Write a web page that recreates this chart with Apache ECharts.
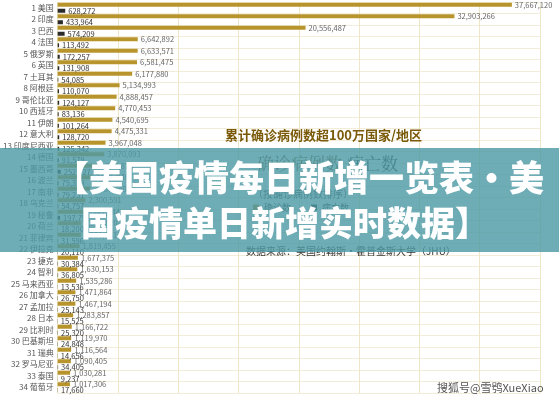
<!DOCTYPE html>
<html><head><meta charset="utf-8">
<script src="https://cdn.jsdelivr.net/npm/echarts@6/dist/echarts.min.js"></script>
<style>html,body{margin:0;padding:0;background:#fff}#c{width:559px;height:400px}</style>
</head><body><div id="c"></div>
<script>
var categories = ['1 美国','2 印度','3 巴西','4 法国','5 俄罗斯','6 英国','7 土耳其','8 阿根廷','9 哥伦比亚','10 西班牙','11 伊朗','12 意大利','13 印度尼西亚','14 德国','15 墨西哥','16 波兰','17 南非','18 乌克兰','19 秘鲁','20 荷兰','21 菲律宾','22 伊拉克','23 捷克','24 智利','25 马来西亚','26 加拿大','27 孟加拉','28 日本','29 比利时','30 巴基斯坦','31 瑞典','32 罗马尼亚','33 泰国','34 葡萄牙'];
var confirmed = [37667120,32903266,20556487,6642892,6633571,6581475,6177880,5134993,4888457,4770453,4540695,4475331,3967048,3870093,3249878,2885940,2706740,2300591,2141744,1956820,1921051,1819455,1677375,1630153,1535286,1471864,1467194,1283857,1166722,1119970,1116564,1090405,1030281,1017306];
var deaths = [628272,433964,574209,113492,172257,131908,54085,110070,124127,83136,101264,128720,125342,91579,252927,75318,79231,54757,197752,18200,31596,20110,30384,36805,13536,26750,25143,15525,25320,24848,14656,34405,9237,17660];
var xTicks = {min:0, max:40000000, interval:5000000};

function fmt(n){return String(n).replace(/\B(?=(\d{3})+(?!\d))/g, ',');}
var FONT = '"Noto Sans CJK SC", "Noto Sans", sans-serif';
var chart = echarts.init(document.getElementById('c'), null, {renderer:'canvas'});
chart.setOption({
  animation:false,
  backgroundColor:'#ffffff',
  textStyle:{fontFamily:FONT},
  title:[
    {text:'累计确诊病例数超100万国家/地区', left:220, top:124, textStyle:{fontSize:13, fontWeight:'bold', color:'#7a5a08', fontFamily:FONT}},
    {text:'确诊病例数', left:252, top:150, textStyle:{fontSize:17, fontWeight:'normal', color:'#6b5a20', fontFamily:'"Noto Serif CJK SC", serif'}},
    {text:'病亡数', left:342, top:150, textStyle:{fontSize:17, fontWeight:'normal', color:'#222', fontFamily:'"Noto Serif CJK SC", serif'}},
    {text:'（按确诊病例数排序）', left:248, top:184, textStyle:{fontSize:10, fontWeight:'normal', color:'#444', fontFamily:FONT}},
    {text:'数据来源：美国约翰斯·霍普金斯大学（JHU）', left:241, top:241, textStyle:{fontSize:10, fontWeight:'normal', color:'#333', fontFamily:FONT}}
  ],
  legend:{left:248, top:198, itemWidth:6, itemHeight:6, itemGap:20, icon:'rect', textStyle:{fontSize:9, color:'#333'}, data:['确诊数','病亡数']},
  grid:{left:56, right:19, top:2, bottom:7, containLabel:false},
  xAxis:{type:'value', min:xTicks.min, max:xTicks.max, interval:xTicks.interval, axisLabel:{show:false}, axisLine:{show:false}, axisTick:{show:false}, splitLine:{show:true, lineStyle:{color:'#efe5c8', width:1}}},
  yAxis:{type:'category', inverse:true, data:categories, axisLine:{show:false}, axisTick:{show:false},
    axisLabel:{interval:0, fontSize:8, color:'#555', margin:4},
    splitLine:{show:true, interval:0, lineStyle:{color:'#f3ecd8', width:1}}},
  series:[
    {name:'确诊数', type:'bar', data:confirmed, barWidth:4, barGap:'50%', itemStyle:{color:'#b8952c'},
      label:{show:true, position:'right', distance:3, fontSize:7.5, color:'#666', formatter:function(p){return fmt(p.value);}}},
    {name:'病亡数', type:'bar', data:deaths, barWidth:4, itemStyle:{color:'#2b2b2b'},
      label:{show:true, position:'right', distance:3, fontSize:7.5, color:'#333', formatter:function(p){return fmt(p.value);}}}
  ],
  graphic:[
    {type:'rect', z:100, shape:{x:0, y:148, width:559, height:104}, style:{fill:'rgba(78,154,166,0.82)'}},
    {type:'text', z:101, x:299, y:178, style:{text:'【美国疫情每日新增一览表·美', font:'900 35px "Noto Sans CJK SC"', fill:'#ffffff', textAlign:'center', textVerticalAlign:'middle'}},
    {type:'text', z:101, x:285, y:223, style:{text:'国疫情单日新增实时数据】', font:'900 34px "Noto Sans CJK SC"', fill:'#ffffff', textAlign:'center', textVerticalAlign:'middle'}},
    {type:'text', z:101, x:437, y:382, style:{text:'搜狐号@雪鸮XueXiao', font:'11px "Noto Sans CJK SC"', fill:'#555'}}
  ]
});
</script></body></html>
